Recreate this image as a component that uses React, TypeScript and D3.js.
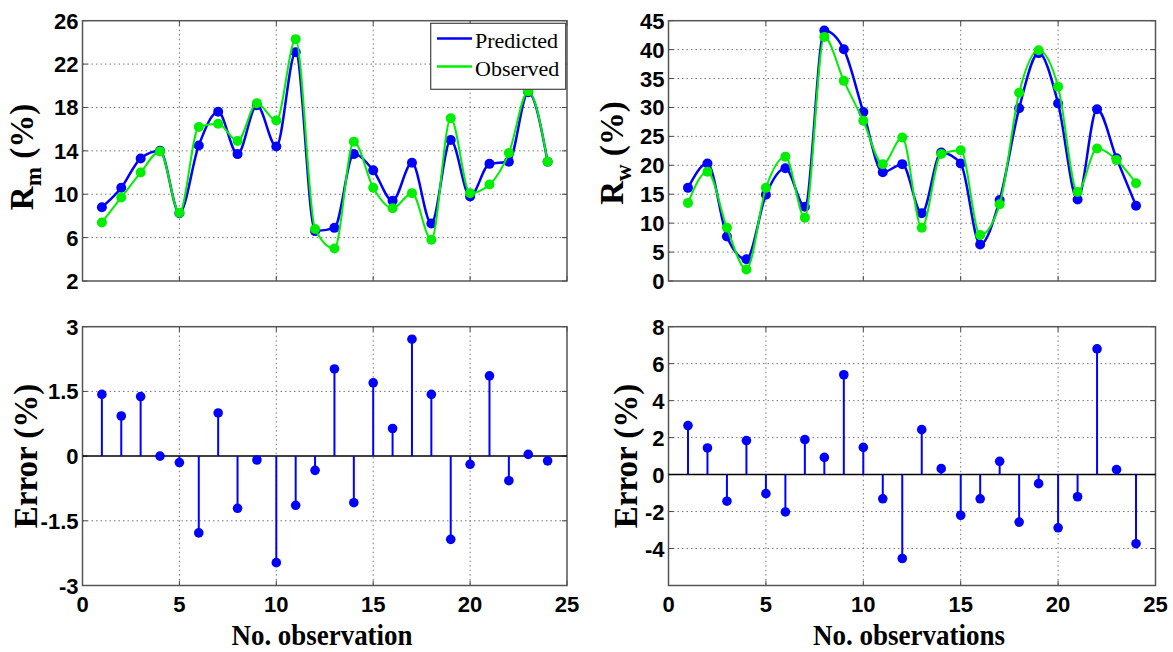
import React, { useEffect, useRef } from 'react';
import * as d3 from 'd3';

// observation numbers
const observations = [1, 2, 3, 4, 5, 6, 7, 8, 9, 10, 11, 12, 13, 14, 15, 16, 17, 18, 19, 20, 21, 22, 23, 24];

// moisture ratio Rm (%)
const rmPredicted = [8.8, 10.6, 13.3, 14.0, 8.25, 14.5, 17.6, 13.7, 18.2, 14.4, 23.1, 6.6, 6.9, 13.7, 12.2, 9.4, 12.9, 7.3, 15.0, 9.8, 12.8, 13.0, 19.4, 13.0];
const rmObserved = [7.4, 9.7, 12.0, 13.95, 8.3, 16.2, 16.5, 14.9, 18.4, 16.8, 24.3, 6.8, 5.0, 14.85, 10.6, 8.7, 10.1, 5.8, 17.0, 10.1, 10.9, 13.8, 19.5, 13.0];
const rmError = [1.43, 0.93, 1.38, 0.0, -0.15, -1.78, 1.0, -1.21, -0.09, -2.47, -1.14, -0.33, 2.02, -1.08, 1.7, 0.64, 2.71, 1.43, -1.93, -0.19, 1.86, -0.57, 0.04, -0.11];

// water ratio Rw (%)
const rwPredicted = [16.1, 20.3, 7.7, 3.75, 14.9, 19.5, 12.85, 43.3, 40.05, 29.2, 18.8, 20.2, 11.7, 22.2, 20.3, 6.3, 14.0, 29.85, 39.4, 30.7, 14.1, 29.7, 21.2, 13.0];
const rwObserved = [13.5, 18.9, 9.2, 2.0, 16.1, 21.5, 10.95, 42.2, 34.6, 27.7, 20.2, 24.8, 9.2, 21.95, 22.6, 7.95, 13.25, 32.55, 39.9, 33.6, 15.4, 22.9, 20.9, 16.9];
const rwError = [2.65, 1.44, -1.44, 1.84, -1.03, -2.02, 1.89, 0.93, 5.4, 1.47, -1.31, -4.54, 2.43, 0.32, -2.2, -1.31, 0.72, -2.57, -0.49, -2.88, -1.2, 6.8, 0.27, -3.74];

// tick labels
const xTicks = [0, 5, 10, 15, 20, 25];
const rmTicks = [2, 6, 10, 14, 18, 22, 26];
const rwTicks = [0, 5, 10, 15, 20, 25, 30, 35, 40, 45];
const rmErrTicks = [-3, -1.5, 0, 1.5, 3];
const rwErrTicks = [-4, -2, 0, 2, 4, 6, 8];

const legendItems = [
  { label: 'Predicted', color: '#0000ff' },
  { label: 'Observed', color: '#00ee00' },
];

const SANS = '"Liberation Sans", Arial, sans-serif';
const SERIF = '"Liberation Serif", "Times New Roman", serif';
const BLUE = '#0000ff';
const GREEN = '#00ee00';

function drawFrame(svg, opts) {
  const { left, right, top, bottom, yDomain, yTicks, showXLabels, zeroLine } = opts;
  const x = d3.scaleLinear().domain([0, 25]).range([left, right]);
  const y = d3.scaleLinear().domain(yDomain).range([bottom, top]);
  const g = svg.append('g');

  // dotted grid
  g.selectAll('.vgrid')
    .data(xTicks.filter((t) => t > 0 && t < 25))
    .enter()
    .append('line')
    .attr('x1', (d) => x(d))
    .attr('x2', (d) => x(d))
    .attr('y1', top)
    .attr('y2', bottom)
    .attr('stroke', '#777')
    .attr('stroke-width', 1)
    .attr('stroke-dasharray', '1.5,3');
  g.selectAll('.hgrid')
    .data(yTicks.filter((t) => t > yDomain[0] && t < yDomain[1] && !(zeroLine && t === 0)))
    .enter()
    .append('line')
    .attr('x1', left)
    .attr('x2', right)
    .attr('y1', (d) => y(d))
    .attr('y2', (d) => y(d))
    .attr('stroke', '#777')
    .attr('stroke-width', 1)
    .attr('stroke-dasharray', '1.5,3');

  // inward ticks on all sides
  const tl = 5;
  xTicks.forEach((t) => {
    g.append('line').attr('x1', x(t)).attr('x2', x(t)).attr('y1', bottom).attr('y2', bottom - tl).attr('stroke', '#444');
    g.append('line').attr('x1', x(t)).attr('x2', x(t)).attr('y1', top).attr('y2', top + tl).attr('stroke', '#444');
  });
  yTicks.forEach((t) => {
    g.append('line').attr('x1', left).attr('x2', left + tl).attr('y1', y(t)).attr('y2', y(t)).attr('stroke', '#444');
    g.append('line').attr('x1', right).attr('x2', right - tl).attr('y1', y(t)).attr('y2', y(t)).attr('stroke', '#444');
  });

  // frame
  g.append('rect')
    .attr('x', left)
    .attr('y', top)
    .attr('width', right - left)
    .attr('height', bottom - top)
    .attr('fill', 'none')
    .attr('stroke', '#555')
    .attr('stroke-width', 1.5);

  // y tick labels
  g.selectAll('.ylab')
    .data(yTicks)
    .enter()
    .append('text')
    .attr('x', left - 4)
    .attr('y', (d) => y(d) + 8)
    .attr('text-anchor', 'end')
    .style('font-family', SANS)
    .style('font-weight', 'bold')
    .style('font-size', '22px')
    .text((d) => String(d));

  if (showXLabels) {
    g.selectAll('.xlab')
      .data(xTicks)
      .enter()
      .append('text')
      .attr('x', (d) => x(d))
      .attr('y', bottom + 26)
      .attr('text-anchor', 'middle')
      .style('font-family', SANS)
      .style('font-weight', 'bold')
      .style('font-size', '22px')
      .text((d) => String(d));
  }

  return { g, x, y };
}

function drawSeries(g, x, y, values, color, width) {
  const line = d3
    .line()
    .x((d, i) => x(observations[i]))
    .y((d) => y(d))
    .curve(d3.curveMonotoneX);
  g.append('path')
    .datum(values)
    .attr('d', line)
    .attr('fill', 'none')
    .attr('stroke', color)
    .attr('stroke-width', width);
  g.selectAll(null)
    .data(values)
    .enter()
    .append('circle')
    .attr('cx', (d, i) => x(observations[i]))
    .attr('cy', (d) => y(d))
    .attr('r', 5)
    .attr('fill', color);
}

function drawStems(g, x, y, values, left, right) {
  g.append('line')
    .attr('x1', left)
    .attr('x2', right)
    .attr('y1', y(0))
    .attr('y2', y(0))
    .attr('stroke', '#000')
    .attr('stroke-width', 1.5);
  g.selectAll(null)
    .data(values)
    .enter()
    .append('line')
    .attr('x1', (d, i) => x(observations[i]))
    .attr('x2', (d, i) => x(observations[i]))
    .attr('y1', y(0))
    .attr('y2', (d) => y(d))
    .attr('stroke', BLUE)
    .attr('stroke-width', 2);
  g.selectAll(null)
    .data(values)
    .enter()
    .append('circle')
    .attr('cx', (d, i) => x(observations[i]))
    .attr('cy', (d) => y(d))
    .attr('r', 4.8)
    .attr('fill', BLUE);
}

function yTitle(svg, tx, ty, main, sub, rest) {
  const t = svg
    .append('text')
    .attr('transform', `translate(${tx},${ty}) rotate(-90)`)
    .attr('text-anchor', 'middle')
    .style('font-family', SERIF)
    .style('font-weight', 'bold')
    .style('font-size', '33px');
  t.append('tspan').text(main);
  if (sub) {
    t.append('tspan').attr('dy', 8).style('font-size', '23px').text(sub);
    t.append('tspan').attr('dy', -8).text(rest);
  }
}

function xTitle(svg, cx, by, label, len) {
  svg
    .append('text')
    .attr('x', cx)
    .attr('y', by)
    .attr('text-anchor', 'middle')
    .attr('textLength', len)
    .attr('lengthAdjust', 'spacingAndGlyphs')
    .style('font-family', SERIF)
    .style('font-weight', 'bold')
    .style('font-size', '30px')
    .text(label);
}

export default function App() {
  const svgRef = useRef(null);

  useEffect(() => {
    const svg = d3.select(svgRef.current);
    svg.selectAll('*').remove();

    const colL = { left: 82.5, right: 567 };
    const colR = { left: 668.5, right: 1155.5 };
    const rowT = { top: 20.7, bottom: 281 };
    const rowB = { top: 326.7, bottom: 585.5 };

    // top-left: Rm
    const tl = drawFrame(svg, { ...colL, ...rowT, yDomain: [2, 26], yTicks: rmTicks, showXLabels: false });
    drawSeries(tl.g, tl.x, tl.y, rmPredicted, BLUE, 2.5);
    drawSeries(tl.g, tl.x, tl.y, rmObserved, GREEN, 2);

    // legend
    const lg = svg.append('g');
    lg.append('rect')
      .attr('x', 430.7)
      .attr('y', 23.3)
      .attr('width', 135)
      .attr('height', 66)
      .attr('fill', '#fff')
      .attr('stroke', '#444')
      .attr('stroke-width', 1.2);
    legendItems.forEach((d, i) => {
      const ly = 38.5 + i * 28;
      lg.append('line').attr('x1', 437).attr('x2', 472).attr('y1', ly).attr('y2', ly).attr('stroke', d.color).attr('stroke-width', 2.5);
      lg.append('text')
        .attr('x', 475)
        .attr('y', ly + 9.5)
        .style('font-family', SERIF)
        .style('font-size', '22px')
        .text(d.label);
    });

    // top-right: Rw
    const tr = drawFrame(svg, { ...colR, ...rowT, yDomain: [0, 45], yTicks: rwTicks, showXLabels: false });
    drawSeries(tr.g, tr.x, tr.y, rwPredicted, BLUE, 2.5);
    drawSeries(tr.g, tr.x, tr.y, rwObserved, GREEN, 2);

    // bottom-left: Rm error
    const bl = drawFrame(svg, { ...colL, ...rowB, yDomain: [-3, 3], yTicks: rmErrTicks, showXLabels: true, zeroLine: true });
    drawStems(bl.g, bl.x, bl.y, rmError, colL.left, colL.right);

    // bottom-right: Rw error
    const br = drawFrame(svg, { ...colR, ...rowB, yDomain: [-6, 8], yTicks: rwErrTicks, showXLabels: true, zeroLine: true });
    drawStems(br.g, br.x, br.y, rwError, colR.left, colR.right);

    // titles
    yTitle(svg, 33, 157, 'R', 'm', ' (%)');
    yTitle(svg, 623, 153, 'R', 'w', ' (%)');
    yTitle(svg, 37, 456, 'Error (%)');
    yTitle(svg, 637, 456, 'Error (%)');
    xTitle(svg, 322, 645, 'No. observation', 181);
    xTitle(svg, 909, 645, 'No. observations', 192);
  }, []);

  return (
    <svg
      ref={svgRef}
      width={1173}
      height={652}
      style={{ position: 'absolute', left: 0, top: 0, background: '#fff' }}
    />
  );
}
